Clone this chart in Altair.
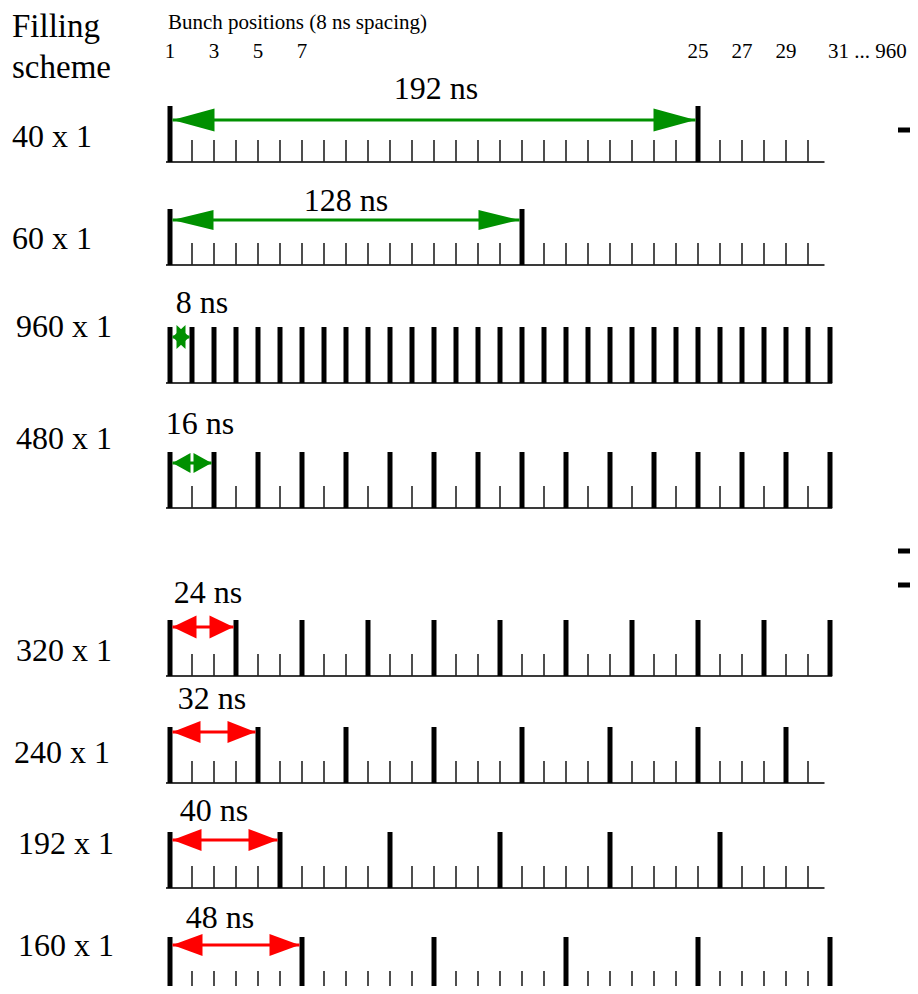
import altair as alt
import pandas as pd

# ---------------- data ----------------
schemes = ["40 x 1", "60 x 1", "960 x 1", "480 x 1", "320 x 1", "240 x 1", "192 x 1", "160 x 1"]
spacing_ns = [192, 128, 8, 16, 24, 32, 40, 48]
last_position = [30, 30, 31, 31, 31, 30, 30, 31]
bunch_spacing_ns = 8
header_labels = ["1", "3", "5", "7", "25", "27", "29"]
header_positions = [1, 3, 5, 7, 25, 27, 29]
header_tail = "31 ... 960"
header_title = "Bunch positions (8 ns spacing)"
side_title = ["Filling", "scheme"]

# ---------------- layout / style (page pixels) ----------------
PX0, PX_PER_UNIT = 170.0, 22.0          # page x of bunch 1, pixels per bunch slot
W, H = 902, 978
def P(px):
    return 1 + (px - PX0) / PX_PER_UNIT

row_baseline_y = [162, 265, 383, 508, 676, 783, 888, 993]
scheme_label_y = [147, 249, 337, 449, 661, 763, 854, 956]
scheme_label_x = [12, 12, 16, 16, 16, 14, 18, 18]
arrow_y = [120, 220, 337, 463, 627, 732, 840, 945]
arrow_label_y = [99, 211, 313, 434, 603, 709, 821, 928]
arrow_label_cx = [436, 346, 202, 200, 208, 212, 214, 220]
head_len = [42, 41, 13, 18, 24, 28, 29, 30]
head_half = [11.5, 10, 12, 10, 11.5, 11, 11, 11]
arrow_colors = ["#009000"] * 4 + ["#ff0000"] * 4
edge_marks_y = [130, 551, 585]
THICK_H, THIN_H = 56, 22
FONT = "Liberation Serif"

# ---------------- build tables ----------------
ticks, bases, shafts, heads, slabels, alabels = [], [], [], [], [], []
for i, name in enumerate(schemes):
    step = spacing_ns[i] // bunch_spacing_ns
    base = row_baseline_y[i]
    last_thick = False
    for p in range(1, last_position[i] + 1):
        thick = (p - 1) % step == 0
        last_thick = thick
        ticks.append(dict(row=name, x=p, y=base - (THICK_H if thick else THIN_H), y2=base,
                          kind="thick" if thick else "thin"))
    bases.append(dict(row=name, x=P(166), x2=last_position[i] + (0.1 if last_thick else 0.75), y=base))
    x1 = 1 + 2.5 / PX_PER_UNIT
    x2 = 1 + step - 2.5 / PX_PER_UNIT
    col = arrow_colors[i]
    shafts.append(dict(row=name, x=x1, x2=x2, y=arrow_y[i], color=col))
    a = 2 * head_half[i] / head_len[i]
    size = head_len[i] ** 2
    heads.append(dict(x=x1, y=arrow_y[i], color=col, size=size,
                      shape=f"M0,0L2,{-a:.3f}L2,{a:.3f}Z"))
    heads.append(dict(x=x2, y=arrow_y[i], color=col, size=size,
                      shape=f"M0,0L-2,{-a:.3f}L-2,{a:.3f}Z"))
    slabels.append(dict(text=name, x=P(scheme_label_x[i]), y=scheme_label_y[i]))
    alabels.append(dict(text=f"{spacing_ns[i]} ns", x=P(arrow_label_cx[i]), y=arrow_label_y[i]))

ticks = pd.DataFrame(ticks)
bases = pd.DataFrame(bases)
shafts = pd.DataFrame(shafts)
heads = pd.DataFrame(heads)
slabels = pd.DataFrame(slabels)
alabels = pd.DataFrame(alabels)
title_df = pd.DataFrame([dict(text=side_title[0], x=P(12), y=37),
                         dict(text=side_title[1], x=P(12), y=78)])
hdr_df = pd.DataFrame([dict(text=header_title, x=P(168), y=29)])
nums_df = pd.DataFrame(dict(text=header_labels, x=header_positions, y=[58] * len(header_labels)))
tail_df = pd.DataFrame([dict(text=header_tail, x=P(828), y=58)])
edge_df = pd.DataFrame(dict(x=[P(898)] * 3, x2=[P(930)] * 3, y=edge_marks_y))

xs = alt.Scale(domain=[P(8), P(8 + W)], nice=False, zero=False)
ys = alt.Scale(domain=[8, 8 + H], reverse=True, nice=False, zero=False)
X = lambda f="x": alt.X(f"{f}:Q", scale=xs, axis=None)
Y = lambda f="y": alt.Y(f"{f}:Q", scale=ys, axis=None)

base_layer = alt.Chart(bases).mark_rule(color="#3a3a3a", strokeWidth=1.8).encode(
    x=X(), x2="x2:Q", y=Y())
thin_layer = alt.Chart(ticks[ticks.kind == "thin"]).mark_rule(color="#222", strokeWidth=1.6).encode(
    x=X(), y=Y(), y2="y2:Q")
thick_layer = alt.Chart(ticks[ticks.kind == "thick"]).mark_rule(color="black", strokeWidth=5).encode(
    x=X(), y=Y(), y2="y2:Q")
shaft_layer = alt.Chart(shafts).mark_rule(strokeWidth=3).encode(
    x=X(), x2="x2:Q", y=Y(), color=alt.Color("color:N", scale=None))
head_layer = alt.Chart(heads).mark_point(filled=True, opacity=1, strokeWidth=0).encode(
    x=X(), y=Y(), color=alt.Color("color:N", scale=None),
    shape=alt.Shape("shape:N", scale=None), size=alt.Size("size:Q", scale=None))
edge_layer = alt.Chart(edge_df).mark_rule(color="black", strokeWidth=5).encode(
    x=X(), x2="x2:Q", y=Y())

def text_layer(df, size, align):
    return alt.Chart(df).mark_text(font=FONT, fontSize=size, align=align, baseline="alphabetic",
                                   color="black").encode(x=X(), y=Y(), text="text:N")

chart = alt.layer(
    base_layer, thin_layer, thick_layer, shaft_layer, head_layer, edge_layer,
    text_layer(title_df, 33, "left"),
    text_layer(slabels, 32, "left"),
    text_layer(alabels, 32, "center"),
    text_layer(hdr_df, 21, "left"),
    text_layer(nums_df, 21, "center"),
    text_layer(tail_df, 21, "left"),
).properties(
    width=W, height=H, autosize=alt.AutoSizeParams(type="none"), padding=0
).configure_view(stroke=None)

chart.save("out.html", embed_options={"renderer": "svg", "actions": False})
